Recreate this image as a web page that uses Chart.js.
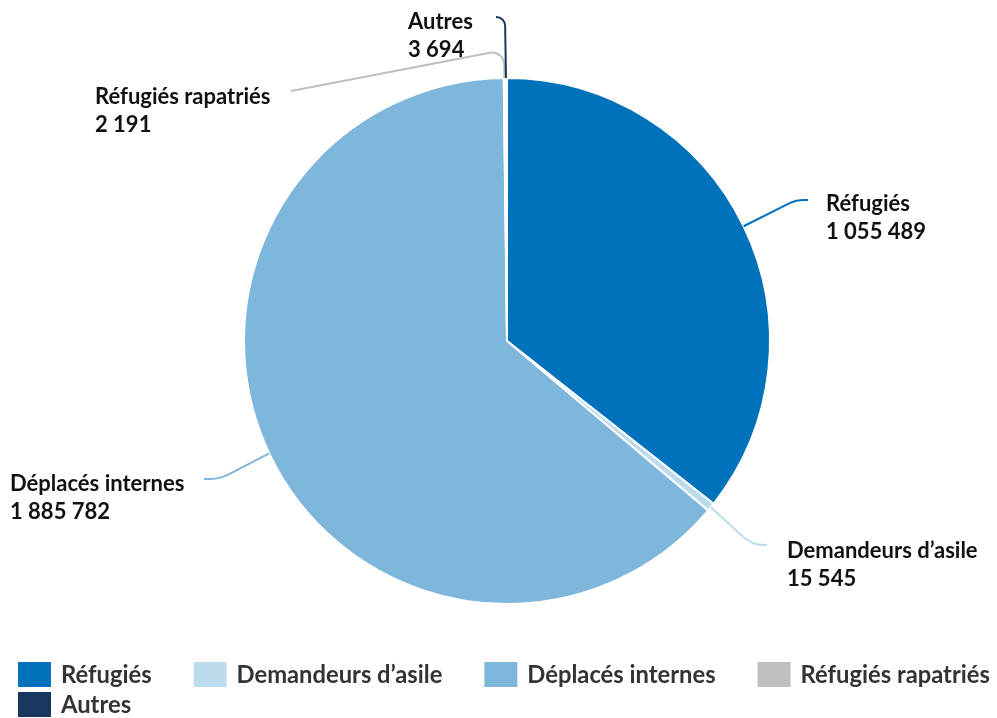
<!DOCTYPE html>
<html>
<head>
<meta charset="utf-8">
<script src="https://cdn.jsdelivr.net/npm/chart.js@4.4.0/dist/chart.umd.min.js"></script>
<style>
  html, body { margin: 0; padding: 0; background: #fff; }
  #wrap { width: 997px; height: 718px; position: relative; }
</style>
</head>
<body>
<div id="wrap"><canvas id="chart"></canvas></div>
<script>
// Population data
const categories = ['Réfugiés', 'Demandeurs d’asile', 'Déplacés internes', 'Réfugiés rapatriés', 'Autres'];
const values = [1055489, 15545, 1885782, 2191, 3694];
const colors = ['#0072BC', '#BCDCEE', '#7FB6DC', '#BFBFBF', '#18375F'];

// Label placement: elbow point, text anchor point, text position
const labelLayout = [
    { elbow: [796, 200], end: [808, 200], text: [826, 204], r: 30 },
    { elbow: [752, 545], end: [767, 545], text: [787, 551], r: 30 },
    { elbow: [220, 479], end: [204, 479], text: [10, 484], r: 40 },
    { elbow: [504, 50], end: [291, 91], text: [95, 97], r: 12 },
    { elbow: [505, 17], end: [496, 17], text: [408, 22], r: 9 }
];

function fmt(n) {
    return String(n).replace(/\B(?=(\d{3})+(?!\d))/g, ' ');
}

const labelsPlugin = {
    id: 'leaderLabels',
    afterDatasetsDraw(chart) {
        const ctx = chart.ctx;
        const meta = chart.getDatasetMeta(0);
        meta.data.forEach((arc, i) => {
            const p = arc.getProps(['x', 'y', 'startAngle', 'endAngle', 'outerRadius'], true);
            const mid = (p.startAngle + p.endAngle) / 2;
            const sx = p.x + Math.cos(mid) * p.outerRadius;
            const sy = p.y + Math.sin(mid) * p.outerRadius;
            const lay = labelLayout[i];

            ctx.save();
            ctx.strokeStyle = colors[i];
            ctx.lineWidth = 2;
            ctx.beginPath();
            ctx.moveTo(sx, sy);
            ctx.arcTo(lay.elbow[0], lay.elbow[1], lay.end[0], lay.end[1], lay.r);
            ctx.lineTo(lay.end[0], lay.end[1]);
            ctx.stroke();

            ctx.fillStyle = '#111';
            ctx.font = 'bold 22px Lato';
            ctx.textAlign = 'left';
            ctx.textBaseline = 'middle';
            ctx.fillText(categories[i], lay.text[0], lay.text[1]);
            ctx.fillText(fmt(values[i]), lay.text[0], lay.text[1] + 28);
            ctx.restore();
        });
    }
};

const legendPlugin = {
    id: 'bottomLegend',
    afterDraw(chart) {
        const ctx = chart.ctx;
        ctx.save();
        ctx.font = 'bold 23.75px Lato';
        ctx.textBaseline = 'middle';
        let x = 18, y = 662;
        const boxW = 33, boxH = 25, gap = 10, spacing = 42, rowH = 30;
        categories.forEach((cat, i) => {
            const w = boxW + gap + ctx.measureText(cat).width;
            if (x + w > chart.width) {
                x = 18;
                y += rowH;
            }
            ctx.fillStyle = colors[i];
            ctx.fillRect(x, y, boxW, boxH);
            ctx.fillStyle = '#333';
            ctx.fillText(cat, x + boxW + gap, y + boxH / 2 + 1);
            x += w + spacing;
        });
        ctx.restore();
    }
};

new Chart(document.getElementById('chart'), {
    type: 'pie',
    data: {
        labels: categories,
        datasets: [{
            data: values,
            backgroundColor: colors,
            borderColor: '#fff',
            borderWidth: 2
        }]
    },
    options: {
        responsive: true,
        maintainAspectRatio: false,
        animation: false,
        layout: {
            padding: { top: 77, bottom: 113, left: 243, right: 226 }
        },
        plugins: {
            legend: { display: false },
            tooltip: { enabled: false }
        }
    },
    plugins: [labelsPlugin, legendPlugin]
});
</script>
</body>
</html>
